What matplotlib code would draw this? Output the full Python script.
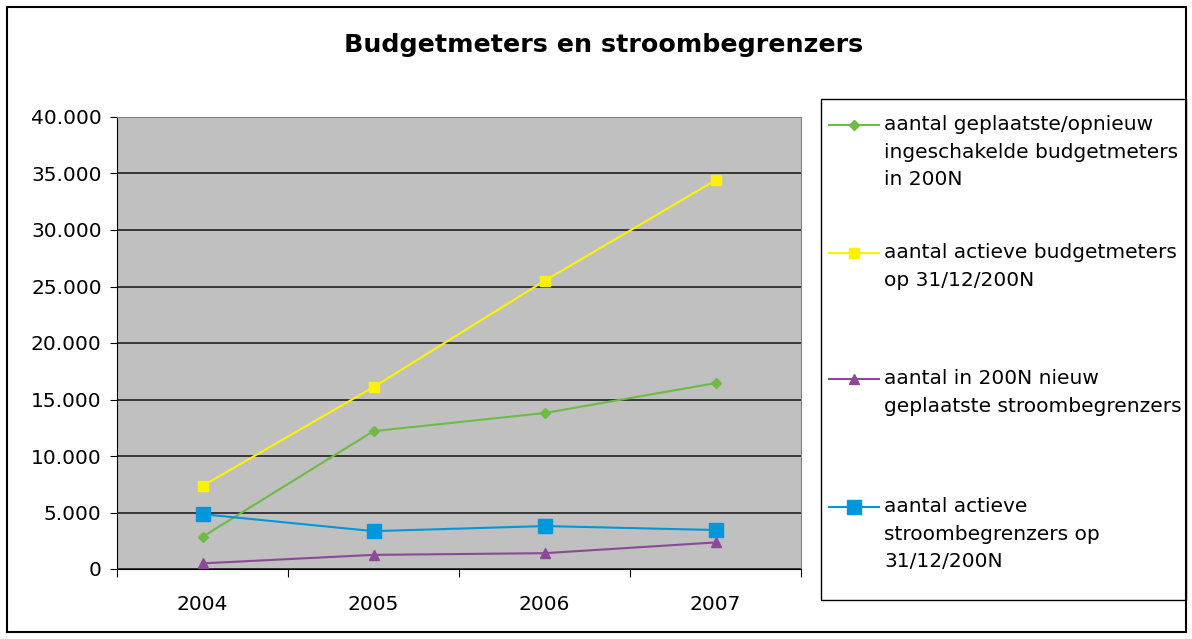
import matplotlib.pyplot as plt
from matplotlib.lines import Line2D
from matplotlib.patches import Rectangle
from matplotlib.ticker import FuncFormatter, FixedLocator

years = ['2004', '2005', '2006', '2007']
geplaatst = [2850, 12200, 13800, 16450]
actief_budget = [7350, 16100, 25500, 34400]
nieuw_begrenzers = [500, 1250, 1400, 2350]
actief_begrenzers = [4850, 3350, 3800, 3450]

labels = [
    'aantal geplaatste/opnieuw\ningeschakelde budgetmeters\nin 200N',
    'aantal actieve budgetmeters\nop 31/12/200N',
    'aantal in 200N nieuw\ngeplaatste stroombegrenzers',
    'aantal actieve\nstroombegrenzers op\n31/12/200N',
]

W, H = 1192, 639
fig = plt.figure(figsize=(W / 100, H / 100), dpi=100)
plt.rcParams['font.family'] = ['DejaVu Sans']

# plot area in pixels: left 117, right 801, top 117, bottom 569
ax = fig.add_axes([117 / W, 1 - 569 / H, (801 - 117) / W, (569 - 117) / H])
ax.set_facecolor('#C0C0C0')

x = range(len(years))
styles = [
    (geplaatst, '#6DBB45', 'D', 5.5),
    (actief_budget, '#FFF200', 's', 6.5),
    (nieuw_begrenzers, '#8A4A96', '^', 7.5),
    (actief_begrenzers, '#0097DA', 's', 10.5),
]
for vals, col, mk, ms in styles:
    ax.plot(x, vals, color=col, marker=mk, markersize=ms, linewidth=1.5,
            markeredgecolor=col, zorder=3)

ax.set_xlim(-0.5, 3.5)
ax.set_ylim(0, 40000)
ax.set_yticks(range(0, 40001, 5000))
ax.yaxis.set_major_formatter(FuncFormatter(lambda v, p: f'{int(v):,}'.replace(',', '.')))
ax.grid(axis='y', color='#202020', linewidth=1.2)
ax.set_axisbelow(True)

ax.xaxis.set_major_locator(FixedLocator([-0.5, 0.5, 1.5, 2.5, 3.5]))
ax.xaxis.set_major_formatter(FuncFormatter(lambda v, p: ''))
ax.xaxis.set_minor_locator(FixedLocator(list(x)))
ax.set_xticklabels(years, minor=True)
ax.tick_params(axis='x', which='minor', length=0, pad=19, labelsize=14.5)
ax.tick_params(axis='x', which='major', length=6, direction='out', color='black')
ax.tick_params(axis='y', length=5, direction='out', labelsize=14.5, pad=6)

for s in ['top', 'right']:
    ax.spines[s].set_color('#808080')
for s in ['left', 'bottom']:
    ax.spines[s].set_color('black')

fig.text(604 / W, 1 - 45 / H, 'Budgetmeters en stroombegrenzers',
         ha='center', va='center', fontsize=18.3, fontweight='bold')

# outer border
fig.patches.append(Rectangle((7 / W, 1 - 632 / H), (1186 - 7) / W, (632 - 7) / H,
                             transform=fig.transFigure, fill=False,
                             edgecolor='black', linewidth=1.5))
# legend box
fig.patches.append(Rectangle((821 / W, 1 - 600 / H), (1186 - 821) / W, (600 - 99) / H,
                             transform=fig.transFigure, fill=False,
                             edgecolor='black', linewidth=1))

entry_y = [125, 253, 379, 507]
for (vals, col, mk, ms), lab, ey in zip(styles, labels, entry_y):
    fy = 1 - ey / H
    fig.add_artist(Line2D([829 / W, 879 / W], [fy, fy], transform=fig.transFigure,
                          color=col, linewidth=1.5))
    fig.add_artist(Line2D([854 / W], [fy], transform=fig.transFigure, color=col,
                          marker=mk, markersize=ms, markeredgecolor=col))
    fig.text(884 / W, fy + 10 / H, lab, ha='left', va='top', fontsize=14.5,
             linespacing=1.58)

fig.savefig('out.png', dpi=100)
